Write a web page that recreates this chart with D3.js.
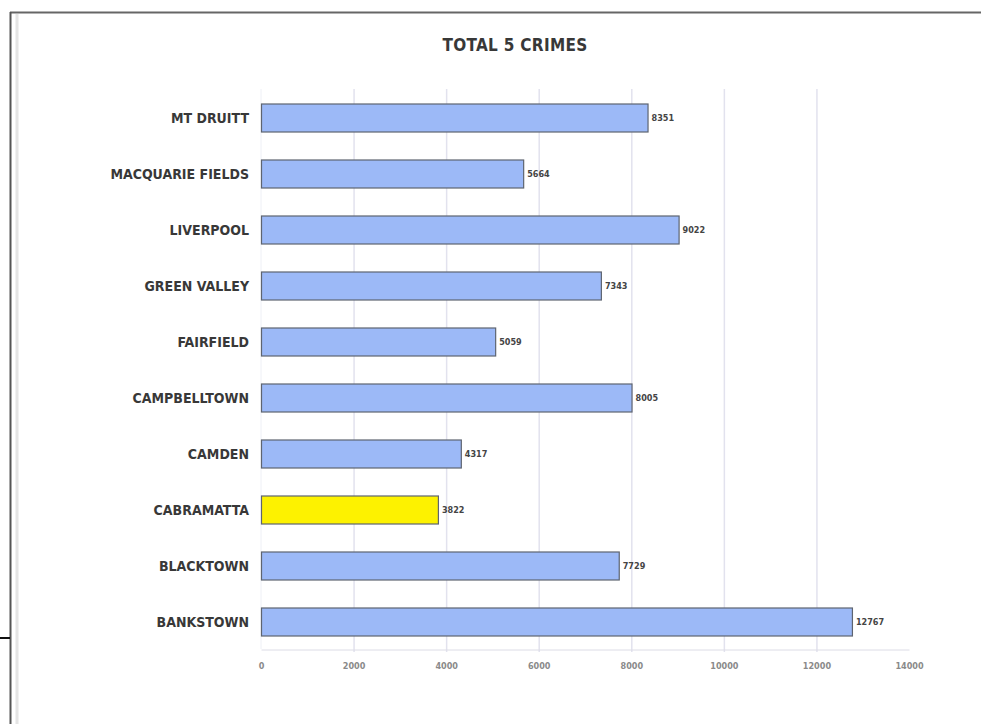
<!DOCTYPE html>
<html>
<head>
<meta charset="utf-8">
<script src="https://cdn.jsdelivr.net/npm/d3@7"></script>
<style>
  html, body { margin: 0; padding: 0; background: #fff; }
  svg { display: block; }
  .lbl { font-family: "Liberation Sans Narrow", "Arial Narrow", "DejaVu Sans Condensed", "DejaVu Sans", sans-serif; font-weight: bold; }
</style>
</head>
<body>
<svg id="chart" width="981" height="724"></svg>
<script>
const title = "TOTAL 5 CRIMES";
const categories = ["MT DRUITT", "MACQUARIE FIELDS", "LIVERPOOL", "GREEN VALLEY", "FAIRFIELD",
                    "CAMPBELLTOWN", "CAMDEN", "CABRAMATTA", "BLACKTOWN", "BANKSTOWN"];
const values = [8351, 5664, 9022, 7343, 5059, 8005, 4317, 3822, 7729, 12767];
const highlighted = ["CABRAMATTA"];
const tickValues = [0, 2000, 4000, 6000, 8000, 10000, 12000, 14000];

const svg = d3.select("#chart");

// page frame
svg.append("line").attr("x1", 10).attr("x2", 981).attr("y1", 12.5).attr("y2", 12.5)
   .attr("stroke", "#666").attr("stroke-width", 2);
svg.append("line").attr("x1", 10.5).attr("x2", 10.5).attr("y1", 12).attr("y2", 724)
   .attr("stroke", "#555").attr("stroke-width", 2);
svg.append("line").attr("x1", 17).attr("x2", 17).attr("y1", 14).attr("y2", 724)
   .attr("stroke", "#e4e4e4").attr("stroke-width", 3);
svg.append("line").attr("x1", 0).attr("x2", 10).attr("y1", 638).attr("y2", 638)
   .attr("stroke", "#111").attr("stroke-width", 2);

const x = d3.scaleLinear().domain([0, 14000]).range([261, 909]);
const y = d3.scaleBand().domain(categories).range([89.5, 649.5]).paddingInner(0.5).paddingOuter(0.25);

// gridlines
svg.append("g").selectAll("line").data(tickValues.filter(t => t > 0 && t < 14000)).join("line")
  .attr("x1", d => x(d) + 0.5).attr("x2", d => x(d) + 0.5)
  .attr("y1", 89).attr("y2", 652)
  .attr("stroke", "#e2e2ee").attr("stroke-width", 1.5);

// x axis
const axis = svg.append("g").attr("transform", "translate(0,649.5)")
  .call(d3.axisBottom(x).tickValues(tickValues).tickSize(0).tickPadding(13).tickFormat(d3.format("d")));
axis.select(".domain").attr("stroke", "#dcdce6");
axis.selectAll("text").attr("class", "lbl").attr("font-weight", "normal")
  .attr("font-size", 9).attr("fill", "#8a8a8a");

// faint vertical axis line
svg.append("line").attr("x1", 261).attr("x2", 261).attr("y1", 89).attr("y2", 649)
  .attr("stroke", "#eef0f6").attr("stroke-width", 1);

// bars
svg.append("g").selectAll("rect").data(categories).join("rect")
  .attr("x", x(0) + 0.5)
  .attr("y", d => y(d) + 0.5)
  .attr("width", (d, i) => x(values[i]) - x(0))
  .attr("height", y.bandwidth())
  .attr("fill", d => highlighted.includes(d) ? "#fdf200" : "#9cb9f7")
  .attr("stroke", "#5e6470").attr("stroke-width", 1.2);

// value labels
svg.append("g").selectAll("text").data(categories).join("text")
  .attr("class", "lbl")
  .attr("x", (d, i) => x(values[i]) + 4)
  .attr("y", d => y(d) + y.bandwidth() / 2 + 3)
  .attr("font-size", 9).attr("fill", "#444")
  .text((d, i) => values[i]);

// category labels
svg.append("g").selectAll("text").data(categories).join("text")
  .attr("class", "lbl")
  .attr("x", 249)
  .attr("y", d => y(d) + y.bandwidth() / 2 + 5)
  .attr("text-anchor", "end")
  .attr("font-size", 14).attr("letter-spacing", 0).attr("fill", "#383838")
  .text(d => d);

// title
svg.append("text").attr("class", "lbl")
  .attr("x", 515).attr("y", 51).attr("text-anchor", "middle")
  .attr("font-size", 17).attr("letter-spacing", 0.3).attr("fill", "#383838")
  .text(title);
</script>
</body>
</html>
